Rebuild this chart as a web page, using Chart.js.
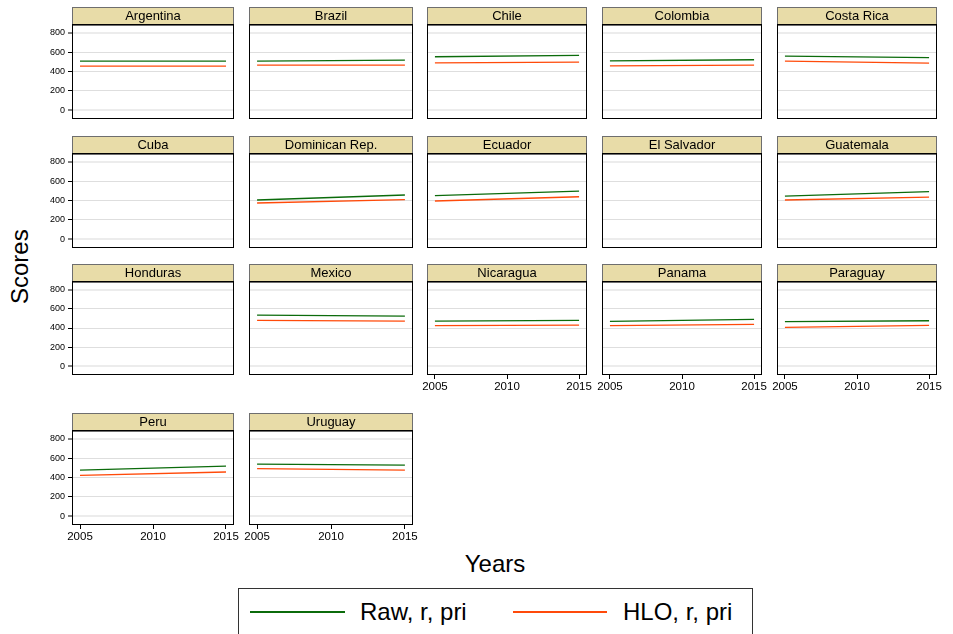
<!DOCTYPE html>
<html>
<head>
<meta charset="utf-8">
<script src="https://cdn.jsdelivr.net/npm/chart.js@4.4.1/dist/chart.umd.min.js"></script>
<style>
  body { margin: 0; background: #fff; font-family: "Liberation Sans", Arial, sans-serif; }
  #page { position: relative; width: 953px; height: 634px; overflow: hidden; }
  #page canvas { position: absolute; }
  .axtitle { position: absolute; font-size: 24px; color: #000; white-space: nowrap; }
  #legend { position: absolute; left: 238px; top: 588px; width: 515px; height: 60px; border: 1px solid #333; box-sizing: border-box; }
  .lgline { position: absolute; top: 22px; height: 2px; }
  .lgtext { position: absolute; top: 9px; font-size: 24px; line-height: 28px; white-space: nowrap; }
</style>
</head>
<body>
<div id="page">
  <div class="axtitle" id="ytitle" style="left:-16px;top:254px;transform:rotate(-90deg);width:72px;text-align:center;">Scores</div>
  <div class="axtitle" style="left:445px;top:550px;width:100px;text-align:center;">Years</div>
  <div id="legend">
    <div class="lgline" style="left:11px;width:95px;background:#0b6b0b;"></div>
    <div class="lgtext" style="left:121px;">Raw, r, pri</div>
    <div class="lgline" style="left:274px;width:94px;background:#ff4a0a;"></div>
    <div class="lgtext" style="left:384px;">HLO, r, pri</div>
  </div>
</div>
<script>
// données
const countries = ['Argentina', 'Brazil', 'Chile', 'Colombia', 'Costa Rica',
  'Cuba', 'Dominican Rep.', 'Ecuador', 'El Salvador', 'Guatemala',
  'Honduras', 'Mexico', 'Nicaragua', 'Panama', 'Paraguay',
  'Peru', 'Uruguay'];
const years = [2005, 2015];
const raw2005 = [508, 508, 553, 511, 560, null, 405, 450, null, 446, null, 534, 472, 469, 466, 477, 539];
const raw2015 = [508, 518, 567, 522, 543, null, 457, 498, null, 491, null, 524, 479, 490, 476, 518, 529];
const hlo2005 = [456, 466, 490, 459, 508, null, 374, 395, null, 405, null, 479, 424, 424, 407, 422, 491];
const hlo2015 = [456, 466, 497, 466, 487, null, 409, 439, null, 436, null, 472, 431, 438, 428, 457, 477];
const yTicks = [0, 200, 400, 600, 800];
const xTicks = [2005, 2010, 2015];

// placement des panneaux
const colLeft = [73, 250, 428, 603, 778];
const colRight = [233, 412, 586, 761, 936];
const rowTop = [7, 136, 264, 413];
const rowBottom = [118, 247, 374, 524];
const PAD = 16, YW = 40, XH = 20, TITLE_H = 18;

const GREEN = '#0b6b0b';
const ORANGE = '#ff4a0a';

// fond beige du titre + cadre noir
const panelFrame = {
  id: 'panelFrame',
  beforeDraw(chart) {
    const a = chart.chartArea, ctx = chart.ctx;
    ctx.save();
    ctx.fillStyle = '#e8dca8';
    ctx.fillRect(a.left, a.top - TITLE_H, a.right - a.left, TITLE_H);
    ctx.strokeStyle = '#6e6e6e';
    ctx.lineWidth = 1;
    ctx.strokeRect(a.left - 0.5, a.top - TITLE_H + 0.5, a.right - a.left + 1, TITLE_H);
    ctx.restore();
  },
  afterDraw(chart) {
    const a = chart.chartArea, ctx = chart.ctx;
    ctx.save();
    ctx.strokeStyle = '#000';
    ctx.lineWidth = 1;
    ctx.strokeRect(a.left - 0.5, a.top - 0.5, a.right - a.left + 1, a.bottom - a.top + 1);
    ctx.restore();
  }
};

const page = document.getElementById('page');

countries.forEach((name, i) => {
  const row = Math.floor(i / 5), col = i % 5;
  const firstCol = col === 0;
  const bottom = i + 5 >= countries.length;
  const yw = firstCol ? YW : 0;
  const xh = bottom ? XH : 0;

  const cv = document.createElement('canvas');
  const w = colRight[col] - colLeft[col] + yw + 2 * PAD;
  const h = rowBottom[row] - rowTop[row] + xh + 2 * PAD;
  cv.width = w; cv.height = h;
  cv.style.left = (colLeft[col] - yw - PAD) + 'px';
  cv.style.top = (rowTop[row] - PAD) + 'px';
  cv.style.width = w + 'px'; cv.style.height = h + 'px';
  page.appendChild(cv);

  const rawPts = raw2005[i] == null ? [] : [{x: years[0], y: raw2005[i]}, {x: years[1], y: raw2015[i]}];
  const hloPts = hlo2005[i] == null ? [] : [{x: years[0], y: hlo2005[i]}, {x: years[1], y: hlo2015[i]}];

  new Chart(cv.getContext('2d'), {
    type: 'line',
    data: {
      datasets: [
        { label: 'Raw, r, pri', data: rawPts, borderColor: GREEN, borderWidth: 1.3, pointRadius: 0, fill: false },
        { label: 'HLO, r, pri', data: hloPts, borderColor: ORANGE, borderWidth: 1.3, pointRadius: 0, fill: false }
      ]
    },
    options: {
      responsive: false,
      animation: false,
      layout: { padding: PAD },
      plugins: {
        legend: { display: false },
        tooltip: { enabled: false },
        title: {
          display: true,
          text: name,
          fullSize: false,
          color: '#000',
          font: { family: '"Liberation Sans", Arial, sans-serif', size: 13, weight: 'normal', lineHeight: 1 },
          padding: { top: 3, bottom: 2 }
        }
      },
      scales: {
        x: {
          type: 'linear',
          min: 2004.52,
          max: 2015.48,
          afterBuildTicks: s => { s.ticks = xTicks.map(v => ({ value: v })); },
          afterFit: s => { s.height = xh; },
          border: { display: false },
          grid: { drawOnChartArea: false, drawTicks: bottom, tickLength: 5, tickColor: '#000', tickWidth: 1 },
          ticks: {
            display: bottom,
            color: '#000',
            padding: 1,
            maxRotation: 0,
            font: { family: '"Liberation Sans", Arial, sans-serif', size: 11.5 },
            callback: v => String(v)
          }
        },
        y: {
          min: -82,
          max: 882,
          afterBuildTicks: s => { s.ticks = yTicks.map(v => ({ value: v })); },
          afterFit: s => { s.width = yw; },
          border: { display: false },
          grid: {
            color: c => (c.tick && (c.tick.value === 0 || c.tick.value === 800)) ? '#ececec' : '#dedede',
            lineWidth: c => (c.tick && (c.tick.value === 0 || c.tick.value === 800)) ? 2 : 1,
            drawTicks: firstCol,
            tickLength: 5,
            tickColor: '#000',
            tickWidth: 1
          },
          ticks: {
            display: firstCol,
            color: '#000',
            padding: 3,
            font: { family: '"Liberation Sans", Arial, sans-serif', size: 9 },
            callback: v => String(v)
          }
        }
      }
    },
    plugins: [panelFrame]
  });
});
</script>
</body>
</html>
